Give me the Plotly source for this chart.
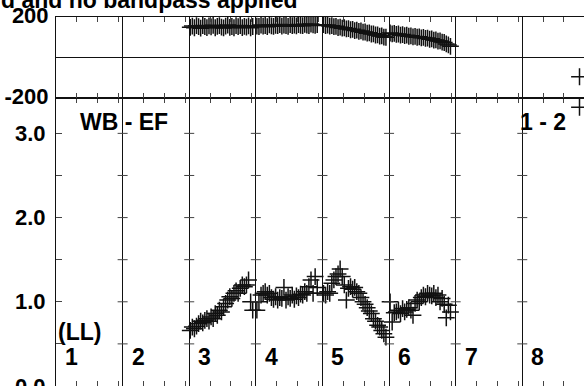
import plotly.graph_objects as go

# ---------------- data ----------------
N_CHAN = 32
IF_LABELS = ["1", "2", "3", "4", "5", "6", "7", "8"]
IF_WITH_DATA = [3, 4, 5, 6]

amp_if3 = [0.66, 0.70, 0.68, 0.71, 0.74, 0.77, 0.75, 0.78, 0.80, 0.77, 0.82, 0.80, 0.86, 0.84, 0.90, 0.88,
           0.94, 0.98, 1.02, 1.06, 1.04, 1.10, 1.13, 1.10, 1.16, 1.20, 1.18, 1.20, 1.26, 1.00, 0.90, None]
amp_if4 = [0.90, 1.00, 1.08, 1.10, 1.12, 1.08, 1.10, 1.05, 1.03, 1.06, 1.02, 1.05, 1.04, 1.17, 1.02, 1.06,
           1.04, 1.08, 1.03, 1.07, 1.05, 1.09, 1.08, 1.12, 1.10, 1.18, 1.26, 1.10, 1.30, 1.17, None, None]
amp_if5 = [1.10, 1.08, 1.12, 1.10, 1.22, 1.26, 1.30, 1.33, 1.39, 1.30, 1.20, 1.02, 1.16, 1.18, 1.15, 1.17,
           1.12, 1.10, 1.05, 1.00, 0.97, 0.93, 0.89, 0.86, 0.80, 0.77, 0.72, 0.70, 0.66, 0.62, 0.58, None]
amp_if6 = [1.00, 0.76, 0.87, 0.88, 0.90, 0.86, 0.92, 0.88, 0.91, 0.93, 0.90, 0.84, 0.98, 1.02, 1.00, 1.05,
           1.08, 1.06, 1.10, 1.08, 1.07, 1.10, 1.05, 1.08, 1.00, 1.04, 0.97, 0.81, 0.96, 0.88, None, None]

phase_if3 = [149, 155, 147, 157, 152, 145, 158, 153, 148, 156, 151, 159, 147, 154, 157, 150,
             146, 155, 160, 149, 153, 147, 157, 152, 158, 148, 154, 150, 156, 147, 153, None]
phase_if4 = [155, 153, 160, 155, 158, 152, 161, 156, 154, 159, 157, 163, 155, 160, 158, 154,
             162, 157, 160, 156, 163, 159, 157, 164, 160, 158, 165, 161, 159, 162, None, None]
phase_if5 = [162, 158, 160, 155, 157, 152, 154, 148, 150, 145, 147, 141, 143, 137, 139, 133,
             135, 129, 131, 125, 126, 120, 122, 116, 117, 111, 112, 106, 107, 101, 100, None]
phase_if6 = [121, 117, 119, 114, 116, 110, 113, 108, 110, 105, 107, 102, 104, 100, 102, 97,
             99, 94, 96, 90, 92, 86, 87, 81, 82, 76, 74, 67, 62, 55, None, None]

# stray points at the right edge (IF 8)
extra_if = [8]
extra_chan = [28]
extra_phase = [-95]
extra_amp = [3.31]

amp_ticks = [0.0, 0.5, 1.0, 1.5, 2.0, 2.5, 3.0]
amp_ticktext = ["0.0", "", "1.0", "", "2.0", "", "3.0"]
phase_ticks = [-200, 200]
phase_ticktext = ["-200", "200"]
chan_ticks = [10, 20, 30]

title_text = "d and no bandpass applied"
baseline_text = "WB - EF"
stokes_text = "(LL)"
page_text = "1 - 2"

# ---------------- build ----------------
amp_lists = [amp_if3, amp_if4, amp_if5, amp_if6]
phase_lists = [phase_if3, phase_if4, phase_if5, phase_if6]


def gx(if_num, chan):
    return (if_num - 1) * N_CHAN + chan - 0.5


ax, ay, px_, py_ = [], [], [], []
for ifn, av, pv in zip(IF_WITH_DATA, amp_lists, phase_lists):
    for c, v in enumerate(av, start=1):
        if v is not None:
            ax.append(gx(ifn, c)); ay.append(v)
    for c, v in enumerate(pv, start=1):
        if v is not None:
            px_.append(gx(ifn, c)); py_.append(v)
for ifn, c, p, a in zip(extra_if, extra_chan, extra_phase, extra_amp):
    ax.append(gx(ifn, c)); ay.append(a)
    px_.append(gx(ifn, c)); py_.append(p)

W, H = 584, 386
L, R, T, B = 56, 0, 17, 0
IF_PX = 66.61
plot_w = W - L - R
plot_h = H - T - B
x_max = plot_w / IF_PX * N_CHAN
split = 1 - (98 - T) / plot_h

INK = "#111111"
TICK = "#444444"
FONT = "Liberation Sans, Arial, sans-serif"

marker = dict(symbol="cross-thin", size=12, line=dict(width=1.5, color=INK), color=INK)

fig = go.Figure()
fig.add_trace(go.Scatter(x=ax, y=ay, mode="markers", marker=marker, xaxis="x", yaxis="y",
                         hoverinfo="skip"))
fig.add_trace(go.Scatter(x=px_, y=py_, mode="markers", marker=marker, xaxis="x2", yaxis="y2",
                         hoverinfo="skip"))

boundaries = [k * N_CHAN for k in range(1, len(IF_LABELS))]
minor_vals = [k * N_CHAN + t for k in range(len(IF_LABELS)) for t in chan_ticks]

xcommon = dict(range=[0, x_max], tickmode="array", tickvals=boundaries, ticks="",
               showticklabels=False, showgrid=True, gridcolor=INK, gridwidth=1,
               showline=True, linecolor=INK, linewidth=1, mirror="ticks", zeroline=False,
               automargin=False,
               minor=dict(tickmode="array", tickvals=minor_vals, ticks="inside", ticklen=5,
                          tickcolor=TICK, tickwidth=1, showgrid=False))

tickfont = dict(family=FONT, size=22, color="#000000", weight="bold")

fig.update_layout(
    width=W, height=H,
    margin=dict(l=L, r=R, t=T, b=B, pad=0, autoexpand=False),
    paper_bgcolor="white", plot_bgcolor="white",
    showlegend=False,
    xaxis=dict(domain=[0, 1], anchor="y", **xcommon),
    xaxis2=dict(domain=[0, 1], anchor="y2", matches="x", **xcommon),
    yaxis=dict(domain=[0, split], range=[0, 3.42], tickmode="array", tickvals=amp_ticks,
               ticktext=amp_ticktext, ticks="inside", ticklen=6, tickcolor=TICK,
               showline=True, linecolor=INK, linewidth=1, showgrid=False, zeroline=False,
               tickfont=tickfont, automargin=False, ticklabeloverflow="allow",
               ticklabelstandoff=5),
    yaxis2=dict(domain=[split, 1], range=[-200, 200], tickmode="array", tickvals=phase_ticks,
                ticktext=phase_ticktext, ticks="", showline=True, linecolor=INK, linewidth=1,
                showgrid=False, zeroline=True, zerolinecolor=INK, zerolinewidth=1,
                tickfont=tickfont, automargin=False, ticklabeloverflow="allow",
                ticklabelstandoff=2, ticklabelshift=-2),
)

# crossing ticks on IF boundaries in amplitude panel
shapes = []
for b in boundaries:
    for v in amp_ticks[1:]:
        shapes.append(dict(type="line", xref="x", yref="y", xsizemode="pixel", xanchor=b,
                           x0=-5, x1=5, y0=v, y1=v, line=dict(color=TICK, width=1)))
fig.update_layout(shapes=shapes)


def xp(px):
    return (px - L) / plot_w


def yp(py):
    return (H - B - py) / plot_h


lab = dict(family=FONT, size=23, color="#000000", weight="bold")
ann = [
    dict(text=title_text, x=xp(299), y=yp(7), xanchor="right", yanchor="bottom", yshift=-8),
    dict(text=baseline_text, x=xp(78), y=yp(122), xanchor="left", yanchor="middle"),
    dict(text=page_text, x=xp(518), y=yp(122), xanchor="left", yanchor="middle"),
    dict(text=stokes_text, x=xp(56), y=yp(332), xanchor="left", yanchor="middle"),
]
for i, t in enumerate(IF_LABELS):
    ann.append(dict(text=t, x=xp(L + i * IF_PX + 7), y=yp(357), xanchor="left", yanchor="middle"))
for a in ann:
    a.update(xref="paper", yref="paper", showarrow=False, font=lab)
fig.update_layout(annotations=ann)

fig.write_html("out.html", config={"displayModeBar": False, "staticPlot": True},
               post_script="document.body.style.margin='0';document.body.style.overflow='hidden';")
